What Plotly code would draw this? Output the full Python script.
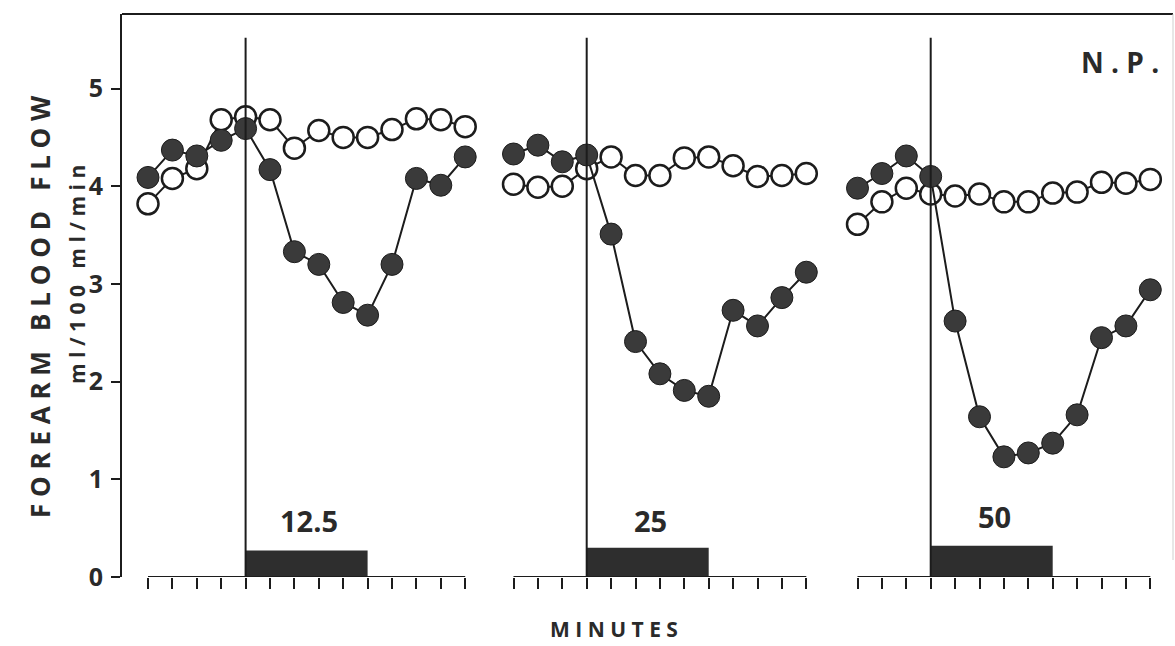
import plotly.graph_objects as go

# ---------------- data ----------------
minutes_p1 = list(range(14))
minutes_p2 = list(range(13))
minutes_p3 = list(range(13))

p1_filled = [4.09, 4.37, 4.31, 4.47, 4.59, 4.17, 3.33, 3.20, 2.81, 2.68, 3.20, 4.08, 4.01, 4.30]
p1_open = [3.82, 4.08, 4.18, 4.68, 4.71, 4.68, 4.39, 4.57, 4.50, 4.50, 4.58, 4.69, 4.68, 4.61]
p2_filled = [4.33, 4.42, 4.25, 4.32, 3.51, 2.41, 2.08, 1.91, 1.85, 2.73, 2.57, 2.86, 3.12]
p2_open = [4.02, 3.99, 4.00, 4.18, 4.30, 4.11, 4.11, 4.29, 4.30, 4.21, 4.10, 4.11, 4.13]
p3_filled = [3.98, 4.13, 4.31, 4.10, 2.62, 1.64, 1.23, 1.27, 1.37, 1.66, 2.45, 2.57, 2.94]
p3_open = [3.61, 3.84, 3.98, 3.92, 3.90, 3.92, 3.84, 3.84, 3.93, 3.94, 4.04, 4.03, 4.07]

dose_labels = ["12.5", "25", "50"]
infusion_start = [4, 3, 3]
infusion_len = 5
infusion_height = [0.27, 0.30, 0.32]
y_ticks = [0, 1, 2, 3, 4, 5]

# ---------------- layout geometry ----------------
W, H = 1175, 646
L, R, T, B = 122, 2, 14, 69
PW = W - L - R
PH = H - T - B
Y_MAX = 5.763
SCALE = 24.4  # px per minute

def px(p):
    return (p - L) / PW

def py(p):
    return (H - B - p) / PH

panels = [
    dict(d0=122, d1=495, m0=148, mins=minutes_p1, f=p1_filled, o=p1_open),
    dict(d0=495, d1=835, m0=513.5, mins=minutes_p2, f=p2_filled, o=p2_open),
    dict(d0=835, d1=1173, m0=857.5, mins=minutes_p3, f=p3_filled, o=p3_open),
]

INK = "#1c1c1c"
FILL = "#3a3a3a"
TXT = "#2a2a2a"
FONT = "Open Sans"

fig = go.Figure()
layout_axes = {}

for i, p in enumerate(panels):
    xa = "x" if i == 0 else f"x{i+1}"
    key = "xaxis" if i == 0 else f"xaxis{i+1}"
    layout_axes[key] = dict(
        domain=[px(p["d0"]), px(p["d1"])],
        range=[(p["d0"] - p["m0"]) / SCALE, (p["d1"] - p["m0"]) / SCALE],
        anchor="y",
        showline=False, showgrid=False, zeroline=False,
        ticks="outside", ticklen=11, tickwidth=2, tickcolor=INK,
        tickvals=p["mins"], showticklabels=False, fixedrange=True,
    )
    fig.add_trace(go.Scatter(x=[p["mins"][0], p["mins"][-1]], y=[0, 0], mode="lines",
                             line=dict(color=INK, width=2), xaxis=xa, yaxis="y",
                             showlegend=False, hoverinfo="skip"))
    s = infusion_start[i]
    fig.add_trace(go.Bar(x=[s + infusion_len / 2], y=[infusion_height[i]], width=[infusion_len],
                         marker=dict(color="#2e2e2e", line=dict(width=0)),
                         xaxis=xa, yaxis="y", showlegend=False, hoverinfo="skip"))
    fig.add_trace(go.Scatter(x=p["mins"], y=p["o"], mode="lines+markers",
                             line=dict(color=INK, width=2),
                             marker=dict(size=21, color="white", line=dict(color=INK, width=2.5)),
                             xaxis=xa, yaxis="y", showlegend=False))
    fig.add_trace(go.Scatter(x=p["mins"], y=p["f"], mode="lines+markers",
                             line=dict(color=INK, width=2),
                             marker=dict(size=22, color=FILL, line=dict(color=INK, width=1)),
                             xaxis=xa, yaxis="y", showlegend=False))
    fig.add_trace(go.Scatter(x=[s, s], y=[0, 5.52], mode="lines",
                             line=dict(color=INK, width=2), xaxis=xa, yaxis="y",
                             showlegend=False, hoverinfo="skip"))

annotations = []
label_pos = [(6.6, 0.58), (5.6, 0.58), (5.6, 0.62)]
for i, lab in enumerate(dose_labels):
    xr = "x" if i == 0 else f"x{i+1}"
    annotations.append(dict(text=lab, x=label_pos[i][0], y=label_pos[i][1], xref=xr, yref="y",
                            xanchor="center", yanchor="middle",
                            showarrow=False, font=dict(family=FONT, size=29, color=TXT, weight="bold")))

common = dict(xref="paper", yref="paper", showarrow=False, xanchor="center", yanchor="middle")
annotations += [
    dict(text="N . P .", x=px(1120), y=py(62),
         font=dict(family=FONT, size=28, color=TXT, weight="bold"), **common),
    dict(text="F O R E A R M &nbsp; B L O O D &nbsp; F L O W", x=px(40), y=py(307), textangle=-90,
         font=dict(family=FONT, size=26, color=TXT, weight="bold"), **common),
    dict(text="m l / 1 0 0 &nbsp; m l / m i n", x=px(77), y=py(275), textangle=-90,
         font=dict(family=FONT, size=21, color=TXT, weight="bold"), **common),
    dict(text="M I N U T E S", x=px(614), y=py(629),
         font=dict(family=FONT, size=21, color=TXT, weight="bold"), **common),
]

shapes = [
    dict(type="line", xref="paper", yref="paper", x0=0, x1=1, y0=1, y1=1,
         line=dict(color=INK, width=2)),
    dict(type="line", xref="paper", yref="paper", x0=1, x1=1, y0=py(560), y1=1,
         line=dict(color="#cfcfcf", width=1)),
]

fig.update_layout(
    width=W, height=H,
    margin=dict(l=L, r=R, t=T, b=B, pad=0),
    paper_bgcolor="white", plot_bgcolor="white",
    barmode="overlay",
    yaxis=dict(range=[0, Y_MAX], anchor="x", showline=True, linewidth=2, linecolor=INK,
               ticks="outside", ticklen=9, tickwidth=2, tickcolor=INK,
               tickvals=y_ticks, showgrid=False, zeroline=False, fixedrange=True,
               ticklabelstandoff=3,
               tickfont=dict(family=FONT, size=25, color=TXT, weight="bold")),
    annotations=annotations,
    shapes=shapes,
    **layout_axes,
)

fig.write_html("out.html", config={"displayModeBar": False},
               post_script="document.body.style.margin='0';document.body.style.overflow='hidden';")
